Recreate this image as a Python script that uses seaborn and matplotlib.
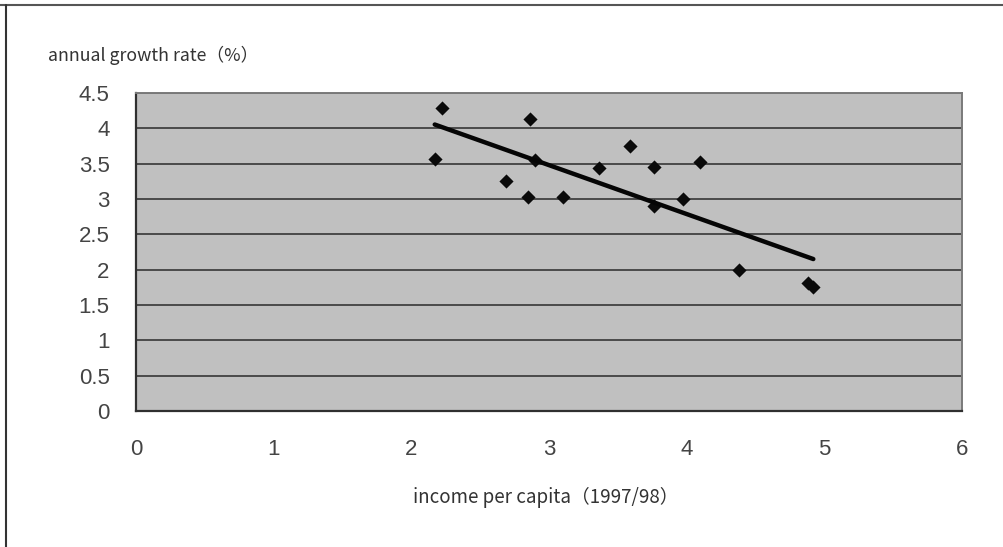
import numpy as np
import pandas as pd
import seaborn as sns
import matplotlib.pyplot as plt
from matplotlib.lines import Line2D

# values
income = [2.17, 2.22, 2.69, 2.85, 2.86, 2.90, 3.10, 3.36, 3.59, 3.76, 3.76, 3.97, 4.10, 4.38, 4.88, 4.92]
growth = [3.57, 4.29, 3.25, 3.03, 4.13, 3.55, 3.03, 3.44, 3.75, 3.45, 2.90, 3.00, 3.52, 1.99, 1.81, 1.76]
x_ticks = [0, 1, 2, 3, 4, 5, 6]
y_ticks = [0, 0.5, 1, 1.5, 2, 2.5, 3, 3.5, 4, 4.5]
y_label = "annual growth rate（%）"
x_label = "income per capita（1997/98）"

df = pd.DataFrame({"income": income, "growth": growth})

sns.set_style("white")
plt.rcParams['font.family'] = ['Liberation Sans', 'Noto Sans CJK JP', 'DejaVu Sans']

fig = plt.figure(figsize=(10.04, 5.47), dpi=100)
ax = fig.add_axes([136 / 1004, 1 - 411 / 547, (962 - 136) / 1004, (411 - 93) / 547])
ax.set_facecolor("#c0c0c0")

sns.regplot(data=df, x="income", y="growth", ci=None, ax=ax,
            marker="D", color="#0a0a0a",
            scatter_kws={"s": 52, "linewidths": 0, "alpha": 1, "zorder": 3},
            line_kws={"lw": 3.2, "color": "#050505", "solid_capstyle": "round", "zorder": 4})

ax.set_xlim(0, 6)
ax.set_ylim(0, 4.5)
ax.set_xticks(x_ticks)
ax.set_yticks(y_ticks)
ax.set_yticklabels([f"{v:g}" for v in y_ticks])
ax.set_xlabel("")
ax.set_ylabel("")
ax.yaxis.grid(True, color="#2a2a2a", lw=1.1)
ax.set_axisbelow(True)
ax.tick_params(axis="x", direction="in", length=4, width=1, color="#333333",
               labelsize=16, labelcolor="#444444", pad=20)
ax.tick_params(axis="y", length=0, labelsize=16, labelcolor="#444444", pad=19)

for side in ["left", "bottom"]:
    ax.spines[side].set_color("#303030")
    ax.spines[side].set_linewidth(1.6)
for side in ["top", "right"]:
    ax.spines[side].set_color("#7a7a7a")
    ax.spines[side].set_linewidth(1.4)

fig.text(48 / 1004, 1 - 55 / 547, y_label, fontsize=12.8, color="#333333",
         ha="left", va="center", family=['Noto Sans CJK JP', 'DejaVu Sans'])
fig.text(413 / 1004, 1 - 497 / 547, x_label, fontsize=13.5, color="#333333",
         ha="left", va="center", family=['Noto Sans CJK JP', 'DejaVu Sans'])

# outer frame (top and left edges of the original box)
fig.add_artist(Line2D([0, 1], [1 - 5 / 547, 1 - 5 / 547], color="#555555", lw=1.5))
fig.add_artist(Line2D([6 / 1004, 6 / 1004], [0, 1 - 5 / 547], color="#333333", lw=1.5))

fig.savefig("out.png", dpi=100)
